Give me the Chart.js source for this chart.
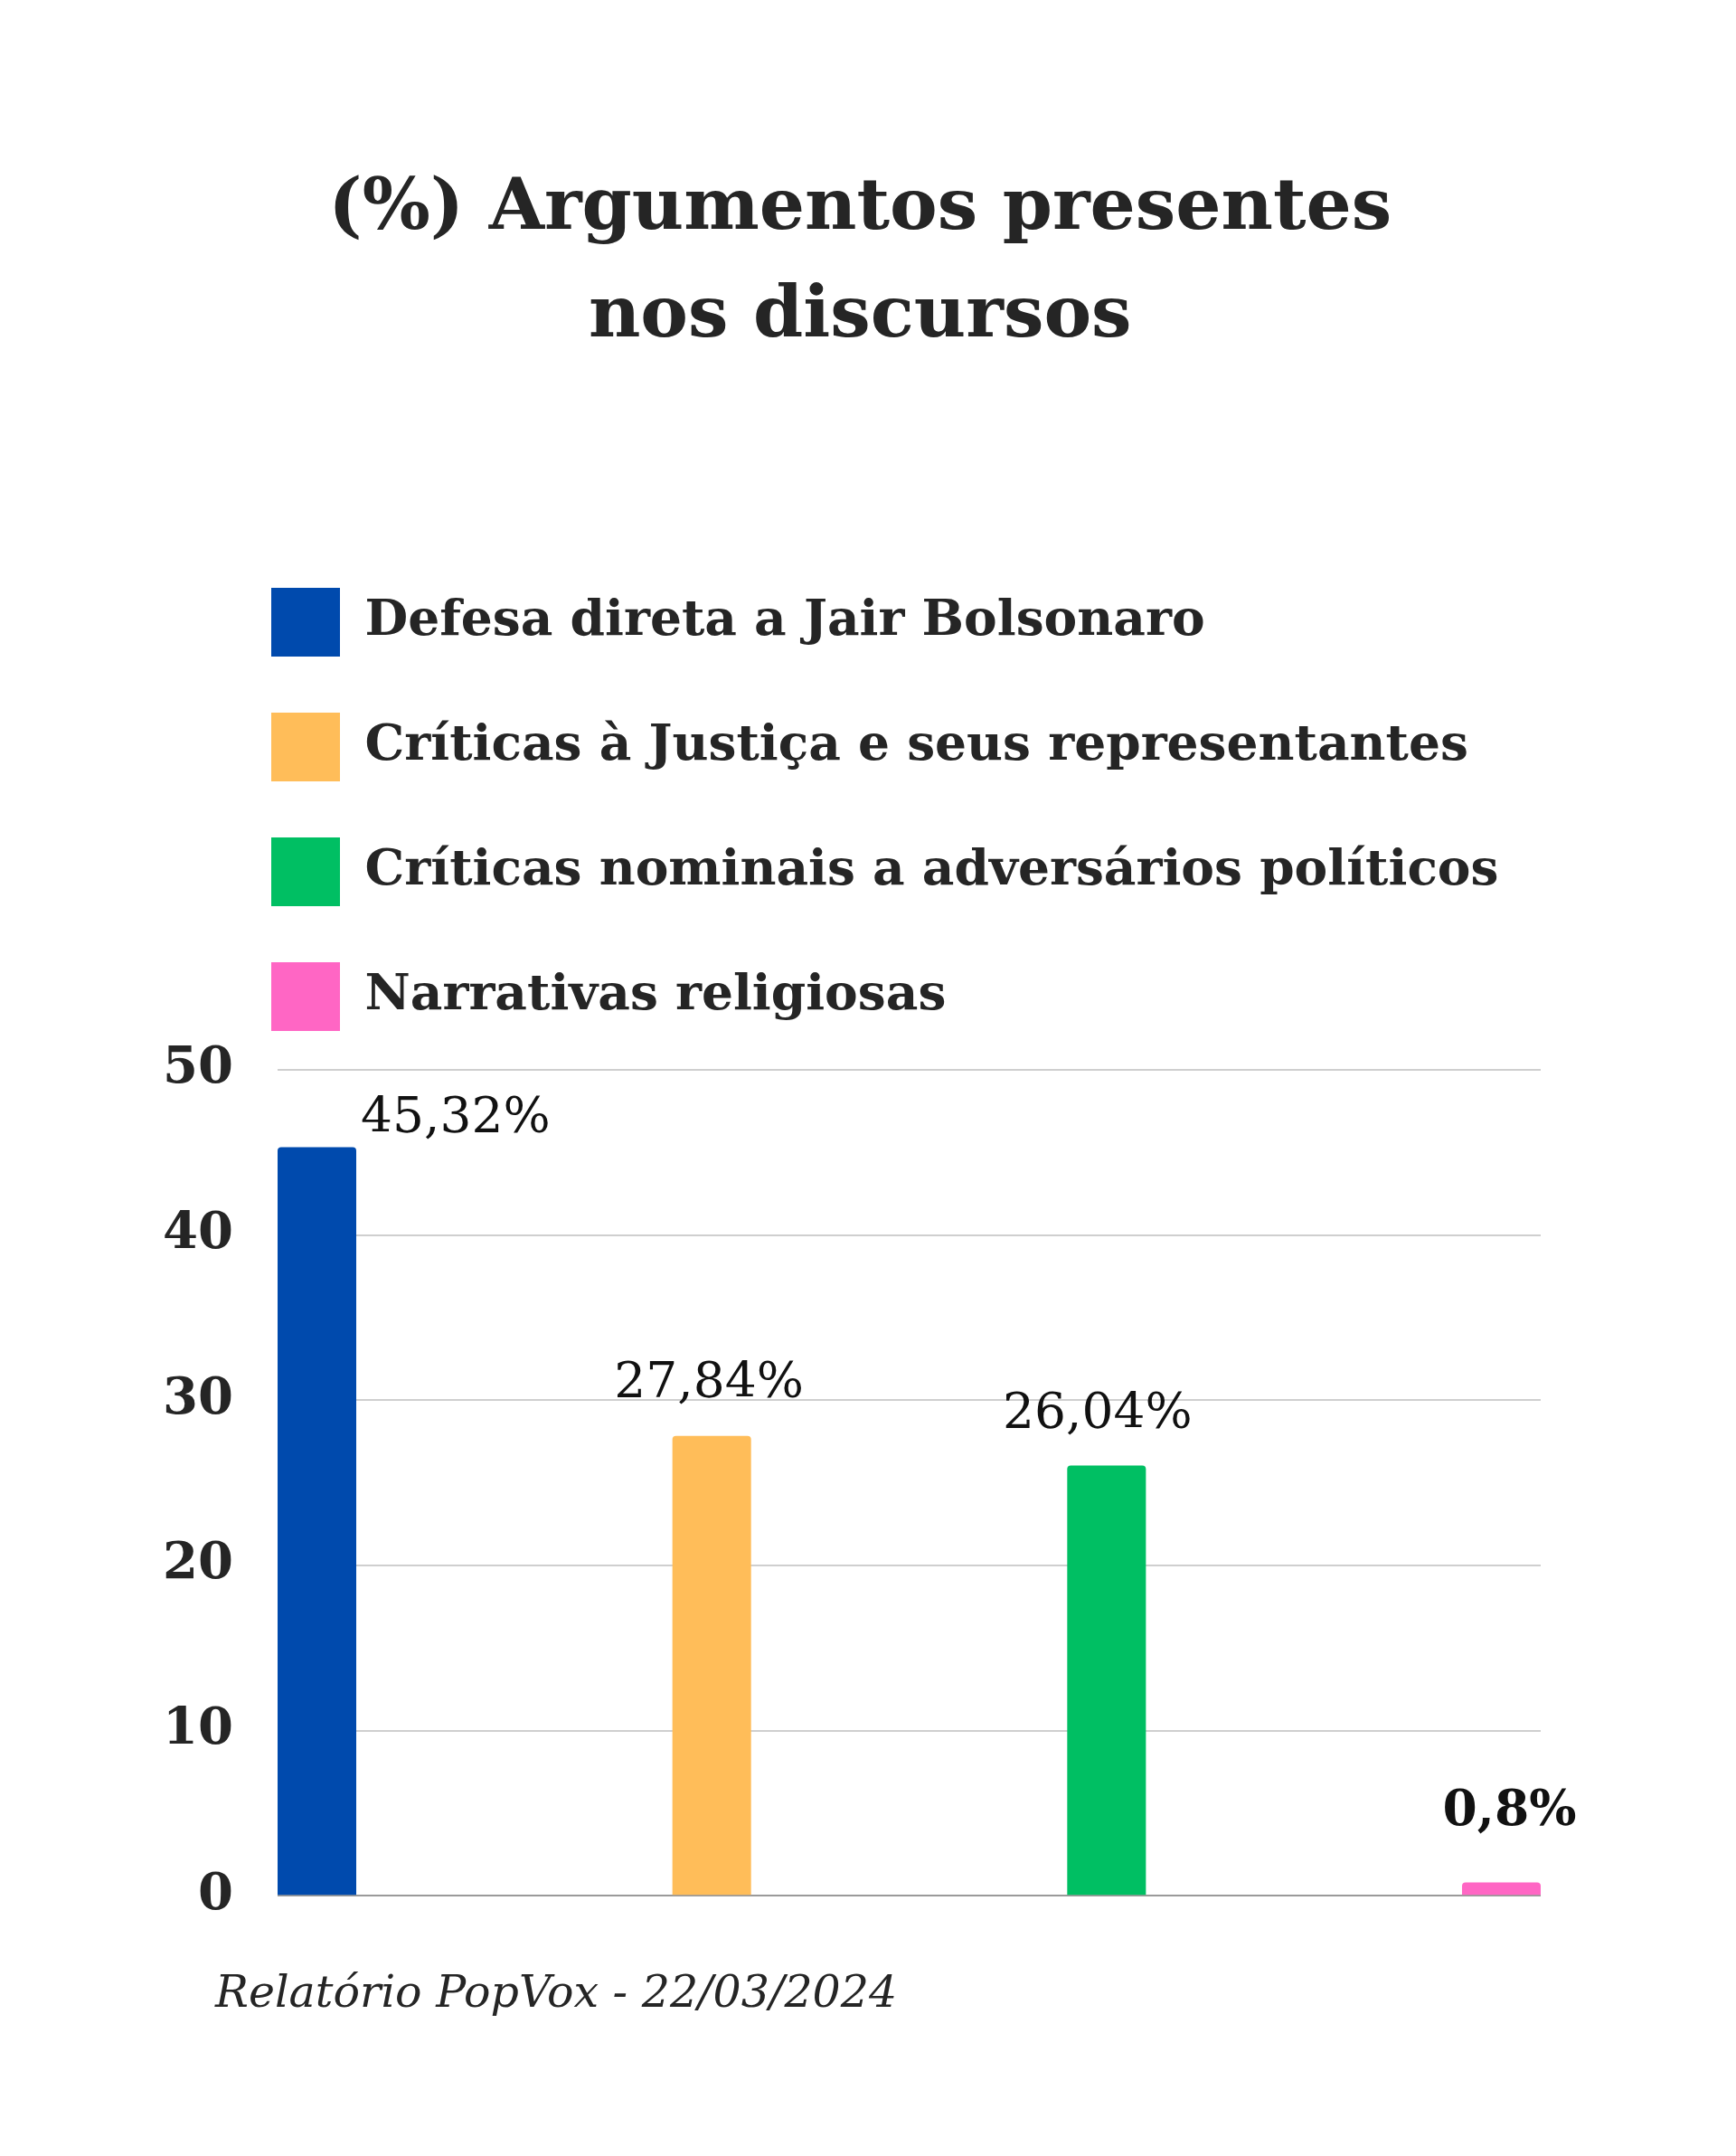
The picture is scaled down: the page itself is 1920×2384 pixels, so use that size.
<!DOCTYPE html>
<html lang="pt">
<head>
<meta charset="utf-8">
<title>Argumentos presentes nos discursos</title>
<script src="https://cdn.jsdelivr.net/npm/chart.js@4.4.1/dist/chart.umd.min.js"></script>
<style>
  html, body { margin: 0; padding: 0; background: #fff; }
  #wrap { width: 1920px; height: 2384px; position: relative; }
</style>
</head>
<body>
<div id="wrap"><canvas id="argChart"></canvas></div>
<script>
const categories = [''];
const seriesNames = [
  'Defesa direta a Jair Bolsonaro',
  'Críticas à Justiça e seus representantes',
  'Críticas nominais a adversários políticos',
  'Narrativas religiosas'
];
const seriesValues = [45.32, 27.84, 26.04, 0.8];
const valueLabels = ['45,32%', '27,84%', '26,04%', '0,8%'];
const yTicks = [0, 10, 20, 30, 40, 50];
const seriesColors = ['#004aad', '#ffbd59', '#00bf63', '#ff66c4'];

const titleLines = ['(%) Argumentos presentes', 'nos discursos'];
const caption = 'Relatório PopVox - 22/03/2024';

const FONT = '"DejaVu Serif", "Liberation Serif", serif';
const TEXT = '#252525';

// where each value label sits relative to the top of its bar
const labelPlace = [
  { align: 'left', dx: 5, dy: -16, weight: 'normal' },
  { align: 'center', dx: -3, dy: -43, weight: 'normal' },
  { align: 'center', dx: -10, dy: -42, weight: 'normal' },
  { align: 'center', dx: 9, dy: -64, weight: 'bold' }
];

const valueLabelPlugin = {
  id: 'valueLabels',
  afterDatasetsDraw(chart) {
    const ctx = chart.ctx;
    ctx.save();
    ctx.fillStyle = '#111';
    ctx.textBaseline = 'alphabetic';
    chart.data.datasets.forEach((ds, i) => {
      const bar = chart.getDatasetMeta(i).data[0];
      const p = labelPlace[i];
      ctx.font = p.weight + ' 55px ' + FONT;
      ctx.textAlign = p.align;
      const x = p.align === 'left' ? bar.x + bar.width / 2 + p.dx : bar.x + p.dx;
      ctx.fillText(valueLabels[i], x, bar.y + p.dy);
    });
    ctx.restore();
  }
};

// a bit more room between the legend and the plot
const legendGap = {
  id: 'legendGap',
  beforeInit(chart) {
    const fit = chart.legend.fit;
    chart.legend.fit = function () {
      fit.call(this);
      this.height += 33;
    };
  }
};

new Chart(document.getElementById('argChart'), {
  type: 'bar',
  data: {
    labels: categories,
    datasets: seriesNames.map((name, i) => ({
      label: name,
      data: [seriesValues[i]],
      backgroundColor: seriesColors[i],
      borderRadius: 4,
      borderSkipped: 'start',
      categoryPercentage: 1.2503,
      barPercentage: 0.1993
    }))
  },
  options: {
    responsive: true,
    maintainAspectRatio: false,
    animation: false,
    devicePixelRatio: 1,
    layout: { padding: { left: 238, right: 216, top: 0, bottom: 0 } },
    plugins: {
      title: {
        display: true,
        // en space at the end nudges the centred lines a little to the left
        text: titleLines.map(t => t + '\u2002'),
        color: TEXT,
        font: { family: FONT, size: 79, weight: 'bold', lineHeight: 1.506 },
        padding: { top: 173, bottom: 177 }
      },
      subtitle: {
        display: true,
        text: caption,
        position: 'bottom',
        align: 'start',
        color: TEXT,
        font: { family: FONT, size: 49, style: 'italic', weight: 'normal', lineHeight: 1.2 },
        padding: { top: 81, bottom: 148 }
      },
      legend: {
        align: 'start',
        labels: {
          boxWidth: 76,
          boxHeight: 76,
          padding: 62,
          color: TEXT,
          font: { family: FONT, size: 55, weight: 'bold' }
        }
      },
      tooltip: { enabled: false }
    },
    scales: {
      x: {
        grid: { display: false, drawTicks: false },
        border: { display: false },
        ticks: { display: false }
      },
      y: {
        min: yTicks[0],
        max: yTicks[yTicks.length - 1],
        afterFit: (scale) => {
          scale.width = 69;
          // let the tick labels run past the narrowed axis box
          scale._computeLabelArea = () => undefined;
        },
        ticks: {
          stepSize: yTicks[1] - yTicks[0],
          padding: 49,
          color: TEXT,
          font: { family: FONT, size: 56, weight: 'bold' }
        },
        grid: {
          drawTicks: false,
          lineWidth: 2,
          color: (ctx) => ctx.tick && ctx.tick.value === 0 ? '#9a9a9a' : '#cfcfcf'
        },
        border: { display: false }
      }
    }
  },
  plugins: [legendGap, valueLabelPlugin]
});
</script>
</body>
</html>
